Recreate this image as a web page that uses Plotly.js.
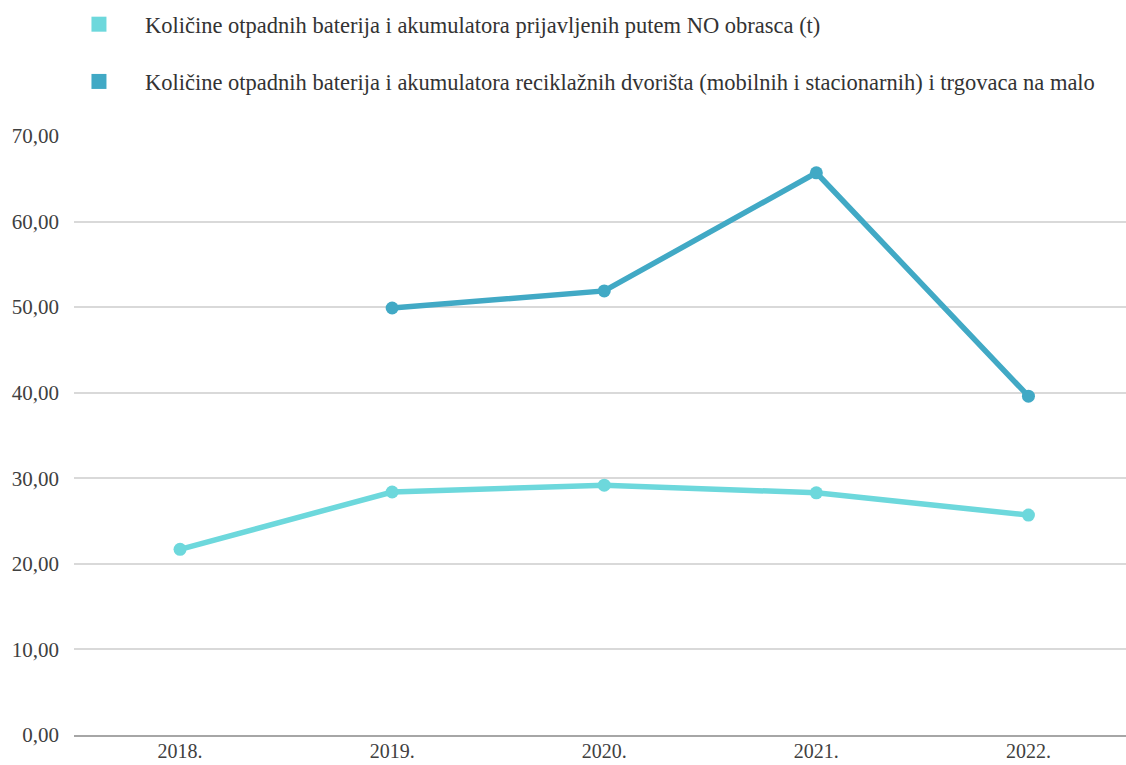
<!DOCTYPE html>
<html>
<head>
<meta charset="utf-8">
<script src="https://cdn.plot.ly/plotly-3.0.1.min.js"></script>
<style>html,body{margin:0;padding:0;background:#fff;}#chart{width:1126px;height:765px;}</style>
</head>
<body>
<div id="chart"></div>
<script>
var years = ["2018.", "2019.", "2020.", "2021.", "2022."];
var seriesNames = [
  "Količine otpadnih baterija i akumulatora prijavljenih putem NO obrasca (t)",
  "Količine otpadnih baterija i akumulatora reciklažnih dvorišta (mobilnih i stacionarnih) i trgovaca na malo"
];
var noObrazac = [21.7, 28.4, 29.2, 28.3, 25.7];
var reciklazna = [null, 49.9, 51.9, 65.7, 39.6];
var colors = ["#6dd8dc", "#41a9c5"];
var yTicks = [0, 10, 20, 30, 40, 50, 60, 70];

var FONT = "Liberation Serif";

var seriesValues = [noObrazac, reciklazna];
var traces = [];
seriesValues.forEach(function (vals, i) {
  traces.push({
    type: "scatter", mode: "lines+markers", x: years, y: vals,
    line: {color: colors[i], width: 5.5}, marker: {color: colors[i], size: 13},
    showlegend: false, hoverinfo: "x+y", connectgaps: false
  });
});
seriesValues.forEach(function (vals, i) {
  traces.push({
    type: "scatter", mode: "markers", x: [null], y: [null], name: seriesNames[i],
    marker: {color: colors[i], symbol: "square", size: 15},
    legendgroup: "g" + i, showlegend: true
  });
});

var layout = {
  width: 1126, height: 765,
  margin: {l: 74, r: 0, t: 136, b: 30},
  paper_bgcolor: "#ffffff", plot_bgcolor: "#ffffff",
  font: {family: FONT, size: 21, color: "#404040"},
  separators: ",.",
  showlegend: true,
  legend: {
    x: -0.02, y: 0.996, xref: "paper", yref: "container", xanchor: "left", yanchor: "top",
    orientation: "v", traceorder: "grouped", tracegroupgap: 25,
    font: {family: FONT, size: 22.5, color: "#333333"},
    itemwidth: 82, bgcolor: "rgba(0,0,0,0)"
  },
  xaxis: {
    type: "category", categoryorder: "array", categoryarray: years,
    range: [-0.5, 4.46], showgrid: false, zeroline: false,
    showline: true, linecolor: "#a6a6a6", linewidth: 2,
    ticks: "", ticklabelstandoff: -3,
    tickfont: {family: FONT, size: 20, color: "#404040"}, fixedrange: true
  },
  yaxis: {
    range: [0, 70], tickvals: yTicks, tickformat: ".2f",
    showgrid: true, gridcolor: "#d9d9d9", gridwidth: 2,
    zeroline: false, showline: false, ticks: "",
    ticklabelstandoff: 14,
    tickfont: {family: FONT, size: 21, color: "#404040"}, fixedrange: true
  }
};

Plotly.newPlot("chart", traces, layout, {displayModeBar: false, staticPlot: true});
</script>
</body>
</html>
